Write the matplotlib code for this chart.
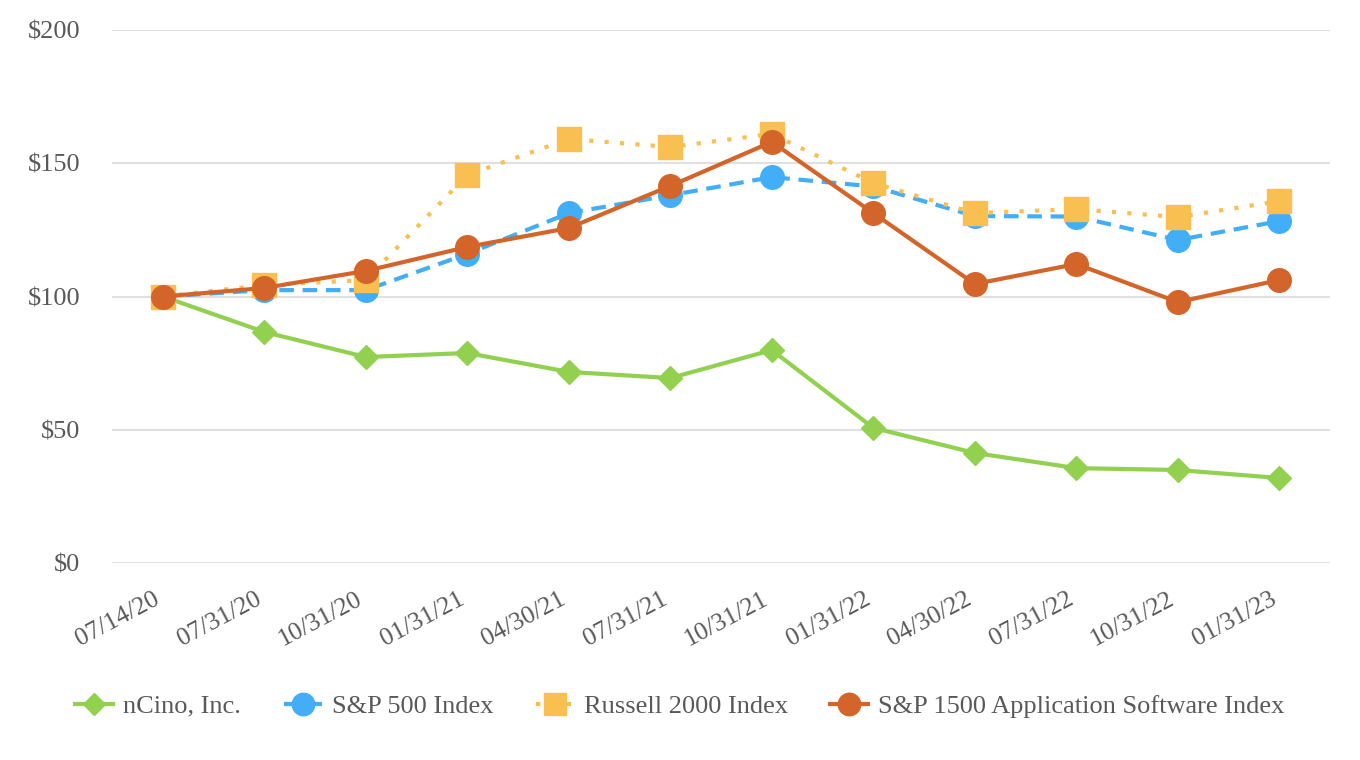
import matplotlib.pyplot as plt
from matplotlib.transforms import ScaledTranslation

# data
dates = ["07/14/20", "07/31/20", "10/31/20", "01/31/21", "04/30/21", "07/31/21",
         "10/31/21", "01/31/22", "04/30/22", "07/31/22", "10/31/22", "01/31/23"]
ncino = [100, 86.7, 77.3, 78.8, 71.7, 69.4, 79.9, 50.7, 41.3, 35.6, 34.9, 31.9]
sp500 = [100, 102.4, 102.4, 116.0, 131.3, 138.0, 144.8, 141.3, 130.2, 130.0, 121.2, 128.3]
russell = [100, 104.3, 106.2, 145.6, 159.1, 156.1, 161.0, 142.6, 131.3, 132.8, 129.8, 135.8]
sp1500 = [100, 103.2, 109.6, 118.6, 125.7, 141.5, 158.0, 131.3, 104.7, 112.2, 97.9, 106.2]

plt.rcParams['font.family'] = ['Liberation Serif', 'DejaVu Serif']
grey = '#595959'

fig = plt.figure(figsize=(13.6, 7.6), dpi=100)
ax = fig.add_axes([0.0824, 0.2592, 0.8956, 0.7013])

x = range(len(dates))
ax.plot(x, ncino, color='#92D050', lw=3, marker='D', ms=12, label='nCino, Inc.', zorder=3)
ax.plot(x, sp500, color='#42AEF8', lw=3, ls=(0, (3.5, 2.1)), marker='o', ms=17,
        label='S&P 500 Index', zorder=4)
ax.plot(x, russell, color='#F9BF50', lw=3, ls=(0, (1, 2.7)), marker='s', ms=17,
        label='Russell 2000 Index', zorder=5)
ax.plot(x, sp1500, color='#D4652A', lw=3, marker='o', ms=17,
        label='S&P 1500 Application Software Index', zorder=6)

ax.set_xlim(-0.5, len(dates) - 0.5)
ax.set_ylim(0, 200)
ax.set_yticks([0, 50, 100, 150, 200])
ax.set_yticklabels(['$0', '$50', '$100', '$150', '$200'])
ax.set_xticks(list(x))
ax.set_xticklabels(dates, rotation=28, ha='right', va='top', rotation_mode='anchor')
ax.tick_params(axis='both', length=0, labelsize=19, labelcolor=grey)
ax.tick_params(axis='y', pad=23)
ax.tick_params(axis='x', labelsize=18.5, pad=18)
# nudge rotated date labels a bit left, like the original
shift = ScaledTranslation(-0.1, 0, fig.dpi_scale_trans)
for lab in ax.get_xticklabels():
    lab.set_transform(lab.get_transform() + shift)

ax.grid(axis='y', color='#E0E0E0', lw=1.5)
ax.set_axisbelow(True)
for s in ax.spines.values():
    s.set_visible(False)

leg = fig.legend(loc='center', bbox_to_anchor=(0.5, 0.071), ncol=4, frameon=False,
                 fontsize=19, handlelength=1.45, columnspacing=1.6, handletextpad=0.38,
                 markerscale=0.95)
for t in leg.get_texts():
    t.set_color(grey)

fig.savefig('out.png', dpi=100)
